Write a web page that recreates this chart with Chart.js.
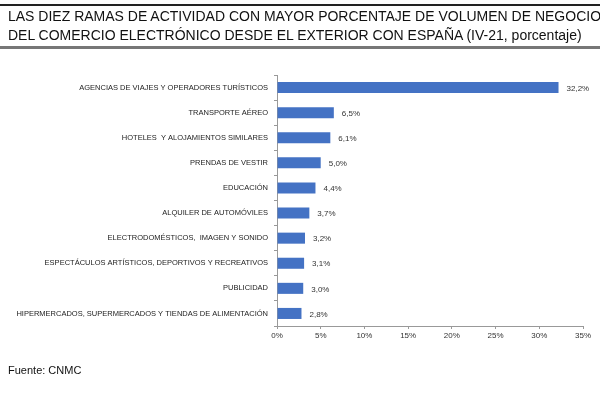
<!DOCTYPE html>
<html>
<head>
<meta charset="utf-8">
<script src="https://cdn.jsdelivr.net/npm/chart.js@4"></script>
<style>
    html, body { margin: 0; padding: 0; background: #fff; }
    #wrap { position: relative; width: 600px; height: 395px; overflow: hidden; font-family: "Liberation Sans", Arial, sans-serif; }
    #topLine { position: absolute; left: 0; top: 4px; width: 600px; height: 2px; background: #222; }
    #bottomLine { position: absolute; left: 0; top: 46px; width: 600px; height: 3px; background: #777; }
    #title { position: absolute; left: 8px; top: 7px; font-size: 14px; line-height: 19px; color: #111; white-space: nowrap; }
    #source { position: absolute; left: 8px; top: 364px; font-size: 11px; color: #111; }
    canvas { position: absolute; left: 0; top: 0; }
</style>
</head>
<body>
<div id="wrap">
    <canvas id="ramasChart" width="600" height="395"></canvas>
    <div id="topLine"></div>
    <div id="title">LAS DIEZ RAMAS DE ACTIVIDAD CON MAYOR PORCENTAJE DE VOLUMEN DE NEGOCIO<br>DEL COMERCIO ELECTRÓNICO DESDE EL EXTERIOR CON ESPAÑA (IV-21, porcentaje)</div>
    <div id="bottomLine"></div>
    <div id="source">Fuente: CNMC</div>
</div>
<script>
const ramas = [
    "AGENCIAS DE VIAJES Y OPERADORES TURÍSTICOS",
    "TRANSPORTE AÉREO",
    "HOTELES  Y ALOJAMIENTOS SIMILARES",
    "PRENDAS DE VESTIR",
    "EDUCACIÓN",
    "ALQUILER DE AUTOMÓVILES",
    "ELECTRODOMÉSTICOS,  IMAGEN Y SONIDO",
    "ESPECTÁCULOS ARTÍSTICOS, DEPORTIVOS Y RECREATIVOS",
    "PUBLICIDAD",
    "HIPERMERCADOS, SUPERMERCADOS Y TIENDAS DE ALIMENTACIÓN"
];
const porcentajes = [32.2, 6.5, 6.1, 5.0, 4.4, 3.7, 3.2, 3.1, 3.0, 2.8];
const xTicks = [0, 5, 10, 15, 20, 25, 30, 35];

// etiquetas de valor al final de cada barra
const valueLabels = {
    id: "valueLabels",
    afterDatasetsDraw(chart) {
        const ctx = chart.ctx;
        const meta = chart.getDatasetMeta(0);
        ctx.save();
        ctx.font = "8px 'Liberation Sans', Arial, sans-serif";
        ctx.fillStyle = "#333";
        ctx.textBaseline = "middle";
        meta.data.forEach((bar, i) => {
            ctx.fillText(porcentajes[i].toFixed(1).replace(".", ",") + "%", bar.x + 8, bar.y + 1);
        });
        ctx.restore();
    }
};

new Chart(document.getElementById("ramasChart"), {
    type: "bar",
    data: {
        labels: ramas,
        datasets: [{
            data: porcentajes,
            backgroundColor: "#4472c4",
            borderWidth: 0,
            barPercentage: 0.44,
            categoryPercentage: 1
        }]
    },
    options: {
        indexAxis: "y",
        responsive: false,
        animation: false,
        layout: { padding: { left: 0, right: 17, top: 75, bottom: 49 } },
        scales: {
            x: {
                min: 0,
                max: 35,
                afterBuildTicks: scale => { scale.ticks = xTicks.map(v => ({ value: v })); },
                afterFit: scale => { scale.height = 20; },
                border: { color: "#999", width: 1 },
                grid: { drawOnChartArea: false, color: "#999", tickLength: 3 },
                ticks: {
                    color: "#333",
                    padding: 2,
                    maxRotation: 0,
                    font: { family: "'Liberation Sans', Arial, sans-serif", size: 8 },
                    callback: v => v + "%"
                }
            },
            y: {
                afterFit: scale => { scale.width = 277; },
                border: { color: "#999", width: 1 },
                grid: { drawOnChartArea: false, color: "#999", tickLength: 3, offset: true },
                ticks: {
                    color: "#222",
                    padding: 6,
                    autoSkip: false,
                    font: { family: "'Liberation Sans', Arial, sans-serif", size: 7.5 }
                }
            }
        },
        plugins: {
            legend: { display: false },
            tooltip: { enabled: false }
        }
    },
    plugins: [valueLabels]
});
</script>
</body>
</html>
